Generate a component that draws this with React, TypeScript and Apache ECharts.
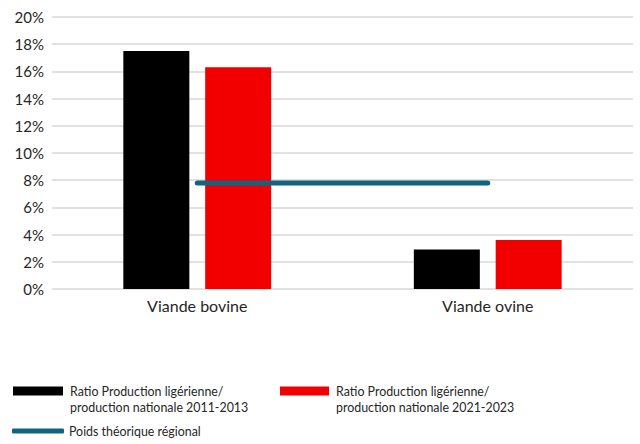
import React, { useEffect, useRef } from "react";
import * as echarts from "echarts";

const categories = ["Viande bovine", "Viande ovine"];
const ratio2011 = [17.5, 2.9];
const ratio2021 = [16.3, 3.6];
const poidsTheorique = [7.8, 7.8];
const yTicks = { min: 0, max: 20, interval: 2 };

const seriesNames = [
  "Ratio Production ligérienne/\nproduction nationale 2011-2013",
  "Ratio Production ligérienne/\nproduction nationale 2021-2023",
  "Poids théorique régional",
];

const FONT = "Lato, 'Noto Sans', sans-serif";
const TEXT = "#262626";
const TEAL = "#10647f";

export default function App() {
  const ref = useRef<HTMLDivElement>(null);
  useEffect(() => {
    if (!ref.current) return;
    const chart = echarts.init(ref.current, undefined, { renderer: "svg" });
    const legendText = {
      fontFamily: FONT,
      fontSize: 12.4,
      color: TEXT,
      lineHeight: 16,
    };
    const twoLine = (name: string) => " \n" + name;
    chart.setOption({
      animation: false,
      textStyle: { fontFamily: FONT },
      grid: { left: 52, right: 7, top: 17, bottom: 155 },
      xAxis: {
        type: "category",
        data: categories,
        axisLine: { show: false },
        axisTick: { show: false },
        axisLabel: { fontFamily: FONT, fontSize: 16, color: TEXT, margin: 8 },
      },
      yAxis: {
        type: "value",
        min: yTicks.min,
        max: yTicks.max,
        interval: yTicks.interval,
        axisLine: { show: false },
        axisTick: { show: false },
        axisLabel: {
          fontFamily: FONT,
          fontSize: 15,
          color: TEXT,
          margin: 8,
          formatter: (v: number) => `${v}%`,
        },
        splitLine: { lineStyle: { color: "#d9d9d9", width: 1.5 } },
      },
      legend: [
        {
          data: [seriesNames[0]],
          left: 13,
          top: 367,
          itemWidth: 50,
          itemHeight: 9,
          icon: "rect",
          padding: 0,
          formatter: twoLine,
          textStyle: { ...legendText, padding: [0, 0, 0, 2] },
        },
        {
          data: [seriesNames[1]],
          left: 280,
          top: 367,
          itemWidth: 49,
          itemHeight: 9,
          icon: "rect",
          padding: 0,
          formatter: twoLine,
          textStyle: { ...legendText, padding: [0, 0, 0, 2] },
        },
        {
          data: [seriesNames[2]],
          left: 12,
          top: 425,
          itemWidth: 52,
          itemHeight: 5,
          icon: "roundRect",
          padding: 0,
          textStyle: { fontFamily: FONT, fontSize: 12.4, color: TEXT },
        },
      ],
      series: [
        {
          name: seriesNames[0],
          type: "bar",
          data: ratio2011,
          barWidth: 66,
          barGap: "24%",
          itemStyle: { color: "#000000" },
        },
        {
          name: seriesNames[1],
          type: "bar",
          data: ratio2021,
          barWidth: 66,
          itemStyle: { color: "#f20000" },
        },
        {
          name: seriesNames[2],
          type: "line",
          data: poidsTheorique,
          symbol: "none",
          lineStyle: { color: TEAL, width: 5, cap: "round" },
          itemStyle: { color: TEAL },
        },
      ],
    });
    return () => chart.dispose();
  }, []);
  return (
    <div
      ref={ref}
      style={{ position: "absolute", left: 0, top: 0, width: 640, height: 444 }}
    />
  );
}
